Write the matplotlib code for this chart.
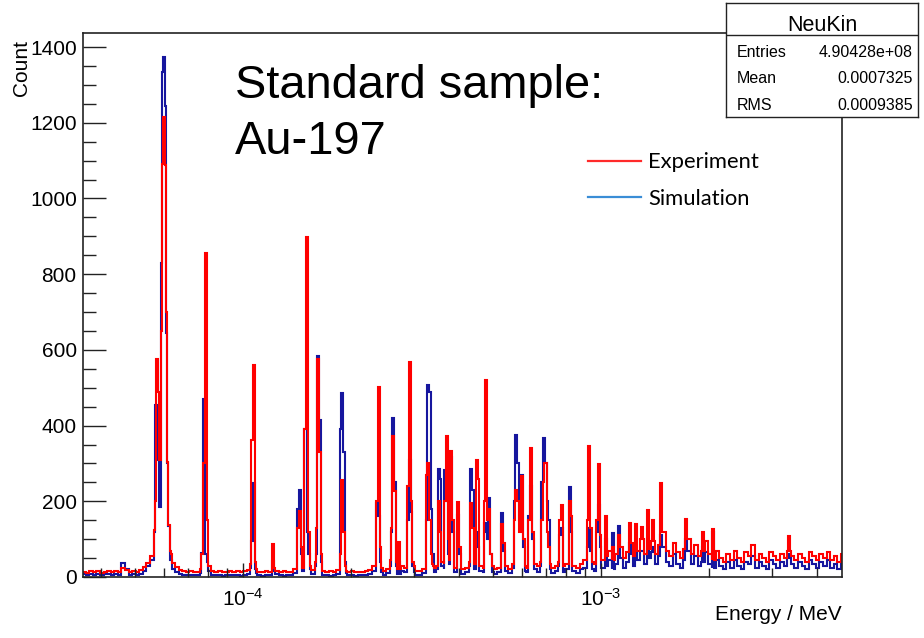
import numpy as np
import matplotlib.pyplot as plt
from matplotlib.lines import Line2D
from matplotlib.ticker import MultipleLocator, LogLocator, NullFormatter

plt.rcParams['font.family'] = ['Liberation Sans', 'DejaVu Sans']
plt.rcParams['mathtext.fontset'] = 'custom'
plt.rcParams['mathtext.rm'] = 'Liberation Sans'
plt.rcParams['mathtext.it'] = 'Liberation Sans:italic'
plt.rcParams['mathtext.bf'] = 'Liberation Sans:bold'

# background level, 0.01-decade bins from 10^-4.45 to 10^-2.32 MeV
bg_log_lo, bg_log_hi = -4.45, -2.32
exp_bg = [
    14, 11, 16, 12, 15, 10, 13, 17, 12, 15,
    13, 24, 18, 13, 16, 14, 19, 26, 38, 55,
    90, 120, 150, 110, 62, 38, 26, 19, 15, 13,
    16, 12, 14, 22, 45, 28, 15, 13, 16, 12,
    14, 17, 13, 15, 12, 16, 19, 35, 22, 14,
    12, 15, 13, 24, 17, 13, 15, 12, 14, 22,
    40, 25, 45, 30, 18, 40, 35, 16, 13, 15,
    12, 18, 30, 17, 13, 15, 12, 14, 13, 16,
    18, 28, 45, 25, 16, 22, 45, 35, 22, 30,
    25, 50, 28, 17, 15, 20, 45, 35, 25, 30,
    40, 35, 45, 38, 25, 30, 22, 25, 40, 35,
    45, 30, 25, 40, 28, 22, 25, 35, 30, 22,
    35, 45, 40, 30, 25, 45, 35, 28, 40, 45,
    35, 25, 30, 40, 28, 35, 45, 30, 25, 35,
    45, 55, 40, 35, 60, 45, 55, 70, 45, 60,
    80, 50, 65, 90, 55, 70, 100, 60, 75, 95,
    60, 85, 120, 70, 55, 90, 65, 50, 75, 100,
    60, 85, 55, 70, 95, 60, 45, 70, 50, 40,
    60, 45, 70, 50, 40, 65, 55, 85, 45, 60,
    50, 40, 65, 55, 45, 60, 50, 70, 55, 45,
    60, 50, 40, 65, 55, 45, 60, 50, 65, 45,
    55, 40, 60,
]
sim_bg = [
    7, 5, 8, 6, 9, 4, 7, 8, 5, 7,
    6, 36, 20, 6, 8, 5, 9, 15, 28, 45,
    100, 150, 180, 120, 45, 22, 12, 8, 5, 6,
    4, 5, 6, 10, 60, 15, 6, 4, 5, 3,
    5, 6, 4, 5, 3, 6, 8, 25, 10, 4,
    3, 5, 4, 15, 8, 4, 3, 5, 4, 10,
    30, 15, 35, 20, 8, 30, 25, 6, 4, 3,
    5, 8, 25, 10, 4, 5, 3, 6, 4, 5,
    8, 15, 30, 12, 5, 10, 30, 20, 8, 15,
    12, 35, 12, 6, 5, 10, 40, 30, 12, 20,
    30, 20, 35, 25, 12, 15, 8, 12, 30, 20,
    30, 15, 12, 25, 12, 8, 12, 25, 15, 10,
    25, 35, 30, 15, 12, 30, 20, 12, 28, 35,
    20, 10, 15, 28, 12, 20, 30, 15, 10, 20,
    25, 35, 20, 15, 35, 25, 30, 45, 20, 35,
    50, 25, 40, 60, 30, 45, 70, 35, 50, 65,
    35, 55, 80, 40, 30, 60, 35, 25, 45, 70,
    35, 55, 30, 40, 65, 35, 25, 45, 30, 20,
    40, 25, 45, 30, 20, 40, 35, 55, 25, 40,
    30, 20, 45, 35, 25, 40, 30, 50, 35, 25,
    40, 30, 20, 45, 35, 25, 40, 30, 45, 25,
    35, 20, 40,
]

# resonance peaks: energy (MeV), experiment counts, simulation counts
peak_energy = [
    5.68e-5, 5.715e-5, 5.75e-5, 5.79e-5, 5.845e-5, 5.92e-5, 5.97e-5, 6.00e-5,
    6.06e-5, 6.095e-5, 6.14e-5, 6.19e-5, 6.25e-5,
    7.68e-5, 7.755e-5, 7.855e-5, 7.93e-5,
    1.058e-4, 1.070e-4, 1.080e-4, 1.215e-4,
    1.4245e-4, 1.438e-4, 1.452e-4, 1.493e-4, 1.509e-4, 1.524e-4,
    1.604e-4, 1.620e-4, 1.636e-4, 1.652e-4,
    1.873e-4, 1.891e-4, 1.909e-4, 1.928e-4,
    2.367e-4, 2.390e-4, 2.413e-4,
    2.599e-4, 2.624e-4, 2.649e-4, 2.675e-4, 2.732e-4,
    2.890e-4, 2.918e-4, 2.946e-4, 2.975e-4,
    3.255e-4, 3.287e-4, 3.319e-4, 3.351e-4, 3.383e-4,
    3.517e-4, 3.551e-4, 3.667e-4, 3.703e-4, 3.739e-4, 3.811e-4, 3.848e-4,
    3.987e-4, 4.026e-4, 4.335e-4, 4.377e-4, 4.492e-4, 4.535e-4,
    4.727e-4, 4.773e-4, 4.819e-4, 4.876e-4, 4.929e-4,
    5.291e-4, 5.342e-4,
    5.752e-4, 5.800e-4, 5.864e-4, 5.940e-4, 6.005e-4, 6.075e-4,
    6.293e-4, 6.375e-4, 6.458e-4,
    6.863e-4, 6.930e-4, 6.997e-4, 7.065e-4, 7.134e-4,
    7.682e-4, 7.767e-4, 8.167e-4, 8.246e-4,
    9.168e-4, 9.257e-4, 9.346e-4, 9.746e-4, 9.841e-4, 9.936e-4,
    1.033e-3, 1.080e-3, 1.123e-3, 1.205e-3, 1.252e-3, 1.302e-3,
    1.353e-3, 1.397e-3, 1.471e-3, 1.728e-3, 1.928e-3, 2.056e-3, 3.350e-3,
]
peak_exp = [
    124, 200, 575, 490, 310, 650, 1090, 1215,
    1088, 700, 305, 138, 70,
    60, 300, 857, 151,
    362, 560, 40, 88,
    130, 175, 80, 390, 897, 120,
    130, 575, 330, 60,
    60, 257, 120, 30,
    200, 501, 80,
    130, 372, 226, 40, 93,
    240, 568, 200, 40,
    270, 300, 150, 60, 30,
    200, 120, 200, 372, 100, 333, 150,
    199, 80, 196, 130, 309, 260,
    200, 521, 150, 180, 60,
    140, 90,
    150, 230, 200, 120, 266, 100,
    150, 341, 120,
    150, 250, 302, 120, 80,
    150, 190, 200, 160,
    150, 345, 130, 150, 299, 110,
    160, 80, 110, 142, 140, 133,
    177, 151, 249, 153, 118, 127, 109,
]
peak_sim = [
    120, 455, 270, 310, 185, 830, 1335, 1373,
    1245, 645, 300, 135, 40,
    63, 470, 40, 40,
    94, 249, 20, 41,
    180, 230, 60, 390, 120, 60,
    60, 585, 415, 40,
    390, 486, 330, 40,
    196, 160, 40,
    120, 420, 250, 30, 40,
    150, 310, 173, 30,
    150, 508, 490, 180, 60,
    286, 260, 283, 200, 60, 316, 120,
    165, 60, 285, 230, 120, 80,
    143, 120, 100, 209, 60,
    169, 70,
    200, 375, 300, 150, 270, 80,
    160, 240, 100,
    250, 367, 300, 200, 150,
    110, 130, 238, 120,
    80, 130, 70, 120, 190, 80,
    100, 115, 135, 90, 70, 60,
    100, 80, 110, 100, 80, 120, 60,
]
peak_width = 0.006  # decades

stat_labels = ['Entries', 'Mean', 'RMS']
stat_values = ['4.90428e+08', '0.0007325', '0.0009385']


def build_hist(bg, heights):
    bg_edges = np.logspace(bg_log_lo, bg_log_hi, len(bg) + 1)
    le = np.log10(peak_energy)
    lo = 10 ** (le - peak_width / 2)
    hi = 10 ** (le + peak_width / 2)
    edges = np.unique(np.concatenate([bg_edges, lo, hi]))
    mids = np.sqrt(edges[:-1] * edges[1:])
    idx = np.clip(np.searchsorted(bg_edges, mids) - 1, 0, len(bg) - 1)
    vals = np.asarray(bg, dtype=float)[idx]
    for l, h, v in zip(lo, hi, heights):
        inside = (mids > l) & (mids < h)
        vals[inside] = np.maximum(vals[inside], v)
    return edges, vals


W, H = 924, 638
fig = plt.figure(figsize=(W / 100, H / 100), dpi=100)
ax = fig.add_axes([83 / W, 1 - 577 / H, (842 - 83) / W, (577 - 33) / H])

edges, sim_vals = build_hist(sim_bg, peak_sim)
ax.stairs(sim_vals, edges, color='#16169e', lw=1.5)
edges, exp_vals = build_hist(exp_bg, peak_exp)
ax.stairs(exp_vals, edges, color='#ff0000', lw=1.5)

ax.set_xscale('log')
ax.set_xlim(3.57e-5, 4.71e-3)
ax.set_ylim(0, 1437)

ax.yaxis.set_major_locator(MultipleLocator(200))
ax.yaxis.set_minor_locator(MultipleLocator(50))
ax.set_xticks([1e-4, 1e-3], labels=['$10^{-4}$', '$10^{-3}$'])
ax.xaxis.set_minor_locator(LogLocator(base=10, subs=np.arange(2, 10)))
ax.xaxis.set_minor_formatter(NullFormatter())

ax.tick_params(which='both', direction='in', top=False, right=False,
               width=1, color='#222222', labelsize=15)
ax.tick_params(axis='y', which='major', length=16.5, pad=4.5)
ax.tick_params(axis='y', which='minor', length=9.5)
ax.tick_params(axis='x', which='major', length=10, pad=8)
ax.tick_params(axis='x', which='minor', length=6.5)
for s in ax.spines.values():
    s.set_linewidth(1.2)
    s.set_color('#222222')

fig.text(842 / W, 1 - 620 / H, 'Energy / MeV', ha='right', va='baseline', fontsize=15)
fig.text(21 / W, 1 - 40 / H, 'Count', rotation=90, ha='center', va='top', fontsize=15)

fig.text(235 / W, 1 - 98 / H, 'Standard sample:', ha='left', va='baseline', fontsize=33.8)
fig.text(235 / W, 1 - 153.5 / H, 'Au-197', ha='left', va='baseline', fontsize=33.8)

handles = [Line2D([], [], color='#ff2a2a', lw=1.6),
           Line2D([], [], color='#3a8dd6', lw=1.6)]
fig.legend(handles, ['Experiment', 'Simulation'], loc='upper left',
           bbox_to_anchor=(588 / W, 1 - 152.5 / H), frameon=False,
           borderpad=0, borderaxespad=0, handlelength=2.42,
           handletextpad=0.32, labelspacing=0.75,
           prop={'family': 'Lato', 'size': 15.8})

# statistics box
sb = fig.add_axes([726 / W, 1 - 117 / H, 192 / W, 114 / H])
sb.set_xticks([])
sb.set_yticks([])
sb.set_xlim(0, 1)
sb.set_ylim(0, 1)
for s in sb.spines.values():
    s.set_linewidth(1.0)
    s.set_color('#222222')
sb.axhline(0.719, color='#222222', lw=1.0)
sb.text(0.5, 0.757, 'NeuKin', ha='center', va='baseline', fontsize=15.5)
for yb, lab, val in zip([0.529, 0.298, 0.061], stat_labels, stat_values):
    sb.text(0.056, yb, lab, ha='left', va='baseline', fontsize=11.5)
    sb.text(0.974, yb, val, ha='right', va='baseline', fontsize=11.5)

fig.savefig('out.png', dpi=100)
